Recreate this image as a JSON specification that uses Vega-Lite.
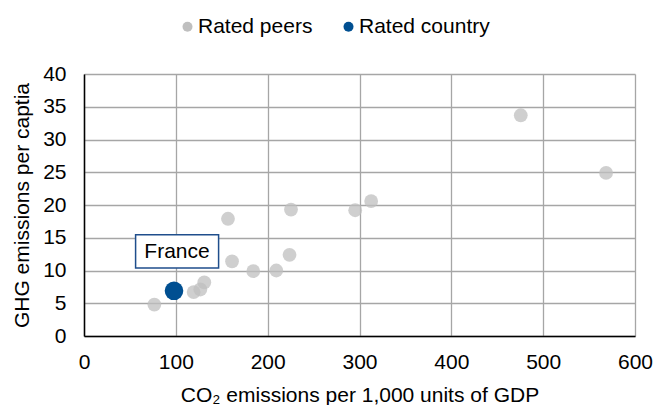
{
  "$schema": "https://vega.github.io/schema/vega-lite/v6.json",
  "autosize": {"type": "none"},
  "width": 551,
  "height": 262,
  "padding": {"left": 84, "top": 74, "right": 21, "bottom": 69},
  "background": "white",
  "config": {
    "font": "Liberation Sans",
    "view": {"stroke": null},
    "axis": {
      "labelFont": "Liberation Sans",
      "titleFont": "Liberation Sans",
      "labelFontSize": 21,
      "titleFontSize": 21,
      "labelColor": "#000000",
      "titleColor": "#000000",
      "titleFontWeight": "normal",
      "gridColor": "#a6a6a6",
      "gridWidth": 1.3,
      "gridOpacity": 1,
      "domainColor": "#000000",
      "domainWidth": 1.5,
      "ticks": false,
      "tickSize": 0,
      "labelFlush": false,
      "labelOverlap": false
    },
    "legend": {
      "labelFont": "Liberation Sans",
      "labelFontSize": 21,
      "labelColor": "#000000"
    }
  },
  "data": {
    "values": [
      {"name": "Peer 1", "co2": 76.6, "ghg": 4.8, "group": "Rated peers"},
      {"name": "Peer 2", "co2": 119.4, "ghg": 6.7, "group": "Rated peers"},
      {"name": "Peer 3", "co2": 126.7, "ghg": 7.1, "group": "Rated peers"},
      {"name": "Peer 4", "co2": 131, "ghg": 8.2, "group": "Rated peers"},
      {"name": "Peer 5", "co2": 156.8, "ghg": 17.9, "group": "Rated peers"},
      {"name": "Peer 6", "co2": 161.2, "ghg": 11.4, "group": "Rated peers"},
      {"name": "Peer 7", "co2": 184.3, "ghg": 9.9, "group": "Rated peers"},
      {"name": "Peer 8", "co2": 209.4, "ghg": 10.0, "group": "Rated peers"},
      {"name": "Peer 9", "co2": 223.8, "ghg": 12.4, "group": "Rated peers"},
      {"name": "Peer 10", "co2": 225.4, "ghg": 19.3, "group": "Rated peers"},
      {"name": "Peer 11", "co2": 295.3, "ghg": 19.2, "group": "Rated peers"},
      {"name": "Peer 12", "co2": 312.7, "ghg": 20.6, "group": "Rated peers"},
      {"name": "Peer 13", "co2": 475.6, "ghg": 33.7, "group": "Rated peers"},
      {"name": "Peer 14", "co2": 568.5, "ghg": 24.9, "group": "Rated peers"},
      {"name": "France", "co2": 98, "ghg": 6.9, "group": "Rated country"}
    ]
  },
  "encoding": {
    "x": {
      "field": "co2",
      "type": "quantitative",
      "scale": {"domain": [0, 600], "nice": false, "zero": true},
      "axis": {
        "title": "CO₂ emissions per 1,000 units of GDP",
        "values": [0, 100, 200, 300, 400, 500, 600],
        "labelPadding": 15,
        "titlePadding": 12
      }
    },
    "y": {
      "field": "ghg",
      "type": "quantitative",
      "scale": {"domain": [0, 40], "nice": false},
      "axis": {
        "title": "GHG emissions per captia",
        "values": [0, 5, 10, 15, 20, 25, 30, 35, 40],
        "labelPadding": 18,
        "titlePadding": 10
      }
    }
  },
  "layer": [
    {
      "mark": {"type": "point", "filled": true, "shape": "circle"},
      "encoding": {
        "color": {
          "field": "group",
          "type": "nominal",
          "scale": {"domain": ["Rated peers", "Rated country"], "range": ["#bfbfbf", "#004f91"]},
          "legend": {
            "title": null,
            "orient": "none",
            "direction": "horizontal",
            "legendX": 93,
            "legendY": -58,
            "padding": 0,
            "symbolSize": 100,
            "symbolOpacity": 1,
            "labelOffset": 0,
            "columnPadding": 25
          }
        },
        "size": {
          "condition": {"test": "datum.group === 'Rated country'", "value": 346},
          "value": 190
        },
        "opacity": {
          "condition": {"test": "datum.group === 'Rated country'", "value": 1},
          "value": 0.75
        }
      }
    },
    {
      "transform": [{"filter": "datum.group === 'Rated country'"}],
      "mark": {
        "type": "rect",
        "fill": "white",
        "stroke": "#1f4e8c",
        "strokeWidth": 1.5,
        "xOffset": -38.4,
        "x2Offset": 44.6,
        "yOffset": -56,
        "y2Offset": -22.7
      },
      "encoding": {
        "x2": {"field": "co2"},
        "y2": {"field": "ghg"}
      }
    },
    {
      "transform": [{"filter": "datum.group === 'Rated country'"}],
      "mark": {
        "type": "text",
        "fontSize": 21,
        "font": "Liberation Sans",
        "color": "#000000",
        "align": "center",
        "baseline": "middle",
        "dx": 3,
        "dy": -39
      },
      "encoding": {
        "text": {"field": "name"}
      }
    }
  ]
}
